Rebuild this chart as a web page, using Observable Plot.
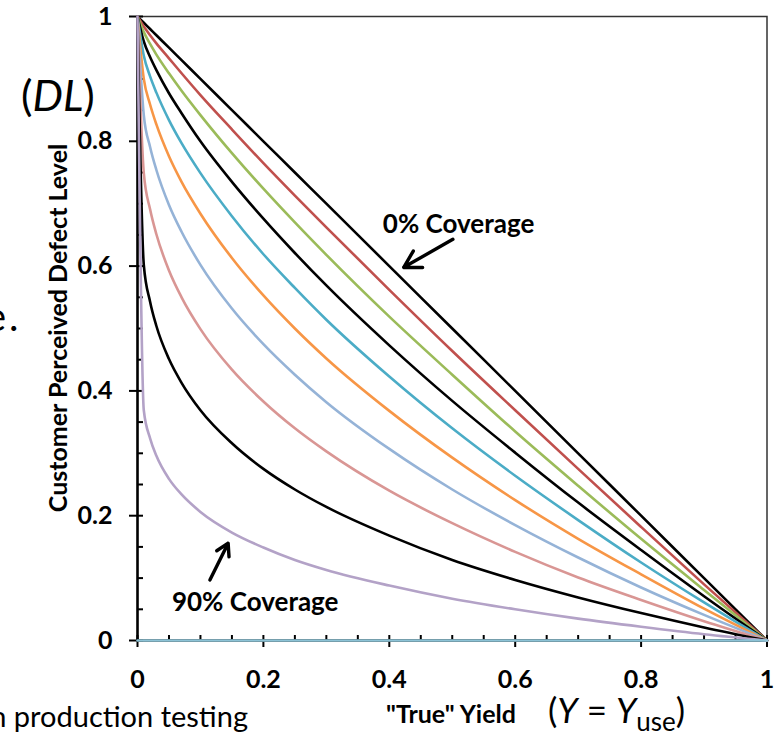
<!DOCTYPE html>
<html><head><meta charset="utf-8">
<script src="https://cdn.jsdelivr.net/npm/d3@7"></script>
<script src="https://cdn.jsdelivr.net/npm/@observablehq/plot@0.6"></script>
<style>
body{margin:0;background:#fff;}
#chart{position:relative;width:774px;height:736px;overflow:hidden;}
#chart svg{display:block;}
</style>
</head><body><div id="chart"></div>
<script>
// "True" yield sample points
const yieldX = [0, 0.01, 0.02, 0.03, 0.05, 0.07, 0.1, 0.15, 0.2, 0.25, 0.3, 0.4, 0.5, 0.6, 0.7, 0.8, 0.9, 1];
// Customer perceived defect level per fault coverage
const cov0   = [1, 0.990, 0.980, 0.970, 0.950, 0.930, 0.900, 0.850, 0.800, 0.750, 0.700, 0.600, 0.500, 0.400, 0.300, 0.200, 0.100, 0];
const cov10  = [1, 0.984, 0.970, 0.957, 0.933, 0.909, 0.874, 0.819, 0.765, 0.713, 0.662, 0.562, 0.464, 0.369, 0.275, 0.182, 0.090, 0];
const cov20  = [1, 0.975, 0.956, 0.939, 0.909, 0.881, 0.842, 0.781, 0.724, 0.670, 0.618, 0.519, 0.426, 0.335, 0.248, 0.163, 0.081, 0];
const cov30  = [1, 0.960, 0.935, 0.914, 0.877, 0.845, 0.800, 0.735, 0.676, 0.621, 0.569, 0.473, 0.384, 0.301, 0.221, 0.145, 0.071, 0];
const cov40  = [1, 0.937, 0.904, 0.878, 0.834, 0.797, 0.749, 0.680, 0.619, 0.565, 0.514, 0.423, 0.340, 0.264, 0.193, 0.125, 0.061, 0];
const cov50  = [1, 0.900, 0.859, 0.827, 0.776, 0.735, 0.684, 0.613, 0.553, 0.500, 0.452, 0.368, 0.293, 0.225, 0.163, 0.106, 0.051, 0];
const cov60  = [1, 0.842, 0.791, 0.754, 0.698, 0.655, 0.602, 0.532, 0.475, 0.426, 0.382, 0.307, 0.242, 0.185, 0.133, 0.085, 0.041, 0];
const cov70  = [1, 0.749, 0.691, 0.651, 0.593, 0.550, 0.499, 0.434, 0.383, 0.340, 0.303, 0.240, 0.188, 0.142, 0.101, 0.065, 0.031, 0];
const cov80  = [1, 0.602, 0.543, 0.504, 0.451, 0.413, 0.369, 0.316, 0.275, 0.242, 0.214, 0.168, 0.129, 0.097, 0.069, 0.044, 0.021, 0];
const cov90  = [1, 0.369, 0.324, 0.296, 0.259, 0.234, 0.206, 0.173, 0.149, 0.129, 0.113, 0.088, 0.067, 0.050, 0.035, 0.022, 0.010, 0];
const cov100 = [0, 0, 0, 0, 0, 0, 0, 0, 0, 0, 0, 0, 0, 0, 0, 0, 0, 0];

const seriesNames  = ["0%", "10%", "20%", "30%", "40%", "50%", "60%", "70%", "80%", "90%", "100%"];
const seriesValues = [cov0, cov10, cov20, cov30, cov40, cov50, cov60, cov70, cov80, cov90, cov100];
const seriesColors = ["#000000", "#C0504D", "#9BBB59", "#000000", "#4BACC6", "#F79646", "#95B3D7", "#D99694", "#000000", "#B3A2C7", "#8DC3D6"];

const xMajor = [0, 0.2, 0.4, 0.6, 0.8, 1];
const xTickLabels = ["0", "0.2", "0.4", "0.6", "0.8", "1"];
const xMinor = [0.05, 0.1, 0.15, 0.25, 0.3, 0.35, 0.45, 0.5, 0.55, 0.65, 0.7, 0.75, 0.85, 0.9, 0.95];
const yMajor = [0, 0.2, 0.4, 0.6, 0.8, 1];
const yTickLabels = ["0", "0.2", "0.4", "0.6", "0.8", "1"];
const yMinor = [0.05, 0.1, 0.15, 0.25, 0.3, 0.35, 0.45, 0.5, 0.55, 0.65, 0.7, 0.75, 0.85, 0.9, 0.95];

const annoLabels = [{x: 0.51, y: 0.667, text: "0% Coverage"}, {x: 0.187, y: 0.061, text: "90% Coverage"}];
const annoArrows = [{x1: 0.501, y1: 0.643, x2: 0.423, y2: 0.598}, {x1: 0.115, y1: 0.097, x2: 0.144, y2: 0.156}];

const rows = [];
seriesNames.forEach((name, i) => {
  yieldX.forEach((x, j) => rows.push({series: name, idx: i, x, y: seriesValues[i][j]}));
});

const W = 774, H = 736;
const mL = 137, mR = 7.5, mT = 16, mB = 96;
const innerW = W - mL - mR, innerH = H - mT - mB;
const FONT = "Lato, 'Open Sans', sans-serif";

const plot = Plot.plot({
  width: W, height: H,
  marginLeft: mL, marginRight: mR, marginTop: mT, marginBottom: mB,
  style: {fontFamily: FONT, background: "#fff", overflow: "visible"},
  x: {domain: [0, 1]},
  y: {domain: [0, 1]},
  marks: [
    Plot.frame({stroke: "#333", strokeWidth: 1.5}),
    Plot.axisX({ticks: xMajor, tickSize: 0, tickPadding: 30, fontSize: 25, fontWeight: "bold", fill: "#000",
      tickFormat: (d) => xTickLabels[xMajor.indexOf(d)], label: null}),
    Plot.axisY({ticks: yMajor, tickSize: 0, tickPadding: 25, fontSize: 25, fontWeight: "bold", fill: "#000",
      tickFormat: (d) => yTickLabels[yMajor.indexOf(d)], label: null}),
    Plot.ruleX(xMajor, {x: (d) => d, insetTop: innerH - 5, insetBottom: -7, stroke: "#000", strokeWidth: 2}),
    Plot.ruleX(xMinor, {x: (d) => d, insetTop: innerH - 5, stroke: "#000", strokeWidth: 2}),
    Plot.ruleY(yMajor, {y: (d) => d, insetLeft: -8, insetRight: innerW - 6, stroke: "#000", strokeWidth: 2}),
    Plot.ruleY(yMinor, {y: (d) => d, insetRight: innerW - 6, stroke: "#000", strokeWidth: 2}),
    Plot.ruleX([0], {stroke: "#000", strokeWidth: 2.5}),
    Plot.ruleY([0], {stroke: "#000", strokeWidth: 2.5}),
    Plot.line(rows, {x: "x", y: "y", z: "series", stroke: (d) => seriesColors[d.idx], strokeWidth: 2.6, curve: "monotone-x"}),
    Plot.arrow(annoArrows, {x1: "x1", y1: "y1", x2: "x2", y2: "y2", stroke: "#000", strokeWidth: 3.4, headLength: 14, headAngle: 60}),
    Plot.text(annoLabels, {x: "x", y: "y", text: "text", fontSize: 26, fontWeight: "bold", fill: "#000"})
  ]
});

document.getElementById("chart").appendChild(plot);
const svg = d3.select(plot);

// Y axis title
svg.append("text")
  .attr("transform", `translate(67,${mT + innerH / 2}) rotate(-90)`)
  .attr("text-anchor", "middle")
  .style("font", `bold 25px ${FONT}`).attr("fill", "#000")
  .text("Customer Perceived Defect Level");

// X axis title
svg.append("text")
  .attr("x", 451).attr("y", 723)
  .attr("text-anchor", "middle")
  .style("font", `bold 25px ${FONT}`).attr("fill", "#000")
  .text('"True" Yield');

// (DL)
const dl = svg.append("text").attr("x", 21).attr("y", 111).attr("text-anchor", "start")
  .style("font", `43px ${FONT}`).attr("fill", "#000");
dl.append("tspan").text("(");
dl.append("tspan").style("font-style", "italic").text("DL");
dl.append("tspan").text(")");

// (Y = Y_use)
const yy = svg.append("text").attr("x", 548).attr("y", 723).attr("text-anchor", "start")
  .style("font", `35px ${FONT}`).attr("fill", "#000");
yy.append("tspan").text("(");
yy.append("tspan").style("font-style", "italic").text("Y");
yy.append("tspan").text(" = ");
yy.append("tspan").style("font-style", "italic").text("Y");
yy.append("tspan").attr("dy", 8).style("font-size", "26px").text("use");
yy.append("tspan").attr("dy", -8).text(")");

// cut-off slide text fragments
svg.append("text").attr("x", 248).attr("y", 727).attr("text-anchor", "end")
  .style("font", `29px ${FONT}`).attr("fill", "#000")
  .text("in production testing");
svg.append("text").attr("x", 6).attr("y", 331).attr("text-anchor", "end")
  .style("font", `40px ${FONT}`).attr("fill", "#000")
  .text("e");
svg.append("text").attr("x", 9).attr("y", 331).attr("text-anchor", "start")
  .style("font", `40px ${FONT}`).attr("fill", "#000")
  .text(".");
</script>
</body></html>
